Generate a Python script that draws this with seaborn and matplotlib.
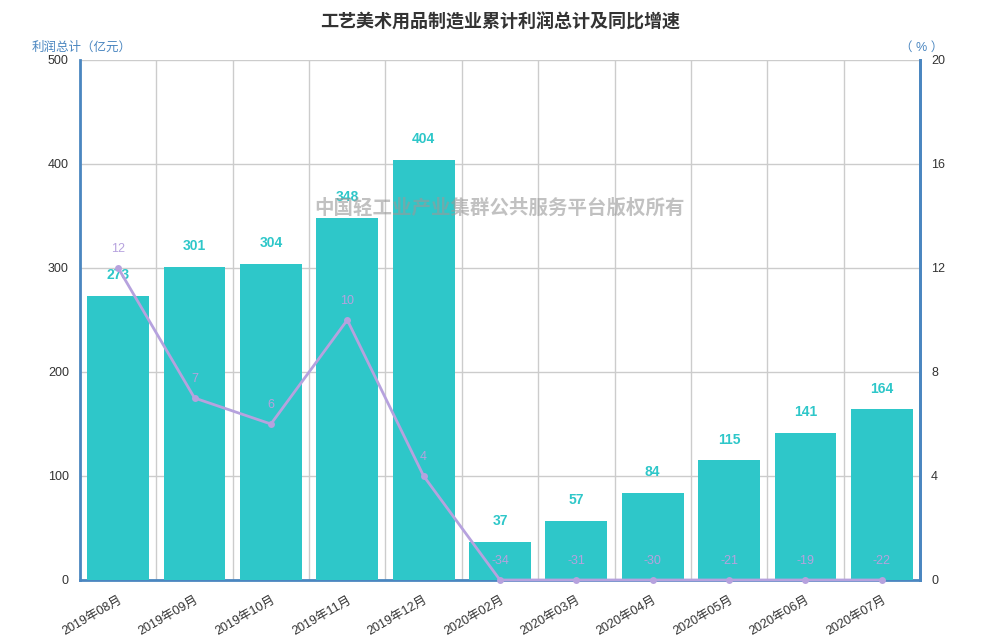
import numpy as np
import pandas as pd
import matplotlib
matplotlib.use("Agg")
import matplotlib.pyplot as plt
import seaborn as sns

months = ["2019年08月", "2019年09月", "2019年10月", "2019年11月", "2019年12月",
          "2020年02月", "2020年03月", "2020年04月", "2020年05月", "2020年06月", "2020年07月"]
profit = [273, 301, 304, 348, 404, 37, 57, 84, 115, 141, 164]
growth = [12, 7, 6, 10, 4, -34, -31, -30, -21, -19, -22]
left_ticks = [0, 100, 200, 300, 400, 500]
right_ticks = [0, 4, 8, 12, 16, 20]

title = "工艺美术用品制造业累计利润总计及同比增速"
left_label = "利润总计（亿元）"
right_label = "（ % ）"
watermark = "中国轻工业产业集群公共服务平台版权所有"

BAR = "#2ec7c9"
LINE = "#b6a2de"
AXIS = "#4a86c0"
GRID = "#cccccc"

sns.set_theme(style="white")
plt.rcParams["font.family"] = ["Liberation Sans", "Noto Sans CJK SC", "DejaVu Sans"]

df = pd.DataFrame({"month": months, "profit": profit, "growth": growth})
df["growth_plot"] = np.clip(df["growth"], right_ticks[0], right_ticks[-1])

fig = plt.figure(figsize=(10, 6.4), dpi=100)
ax = fig.add_axes([0.08, 0.09375, 0.84, 0.8125])

sns.barplot(data=df, x="month", y="profit", color=BAR, saturation=1, width=0.81,
            linewidth=0, ax=ax, zorder=3)
n = len(months)
ax.set_xlim(-0.5, n - 0.5)
ax.set_ylim(left_ticks[0], left_ticks[-1])
ax.set_yticks(left_ticks)
ax.set_xticks(np.arange(-0.5, n, 1.0))
ax.set_xticklabels([])
ax.set_xticks(np.arange(n), minor=True)
ax.set_xticklabels(months, minor=True, rotation=30, ha="right", va="top",
                   rotation_mode="anchor", fontsize=9, color="#333333")
ax.tick_params(axis="x", which="minor", length=0, pad=10)
ax.tick_params(axis="x", which="major", length=5, width=1, color="#333333", direction="out")
ax.tick_params(axis="y", length=0, labelsize=9, labelcolor="#333333", pad=8)
ax.grid(True, which="major", color=GRID, linewidth=1, zorder=0)
ax.set_axisbelow(True)
ax.set_xlabel("")
ax.set_ylabel("")
ax.spines["top"].set_visible(False)
for side in ["left", "bottom", "right"]:
    ax.spines[side].set_color(AXIS)
    ax.spines[side].set_linewidth(2)

for i, v in enumerate(profit):
    ax.annotate(str(v), (i, v), xytext=(0, 10), textcoords="offset points",
                ha="center", va="bottom", fontsize=10, fontweight="bold", color=BAR, zorder=5)

ax2 = ax.twinx()
sns.lineplot(data=df, x="month", y="growth_plot", ax=ax2, color=LINE, linewidth=2,
             marker="o", markersize=5, markeredgewidth=0, zorder=4, clip_on=False)
ax2.set_ylim(right_ticks[0], right_ticks[-1])
ax2.set_yticks(right_ticks)
ax2.tick_params(axis="y", length=0, labelsize=9, labelcolor="#333333", pad=8)
ax2.set_ylabel("")
ax2.set_xlabel("")
ax2.grid(False)
for side in ["top", "left", "bottom"]:
    ax2.spines[side].set_visible(False)
ax2.spines["right"].set_color(AXIS)
ax2.spines["right"].set_linewidth(2)

for i, (g, gp) in enumerate(zip(growth, df["growth_plot"])):
    ax2.annotate(str(g), (i, gp), xytext=(0, 9), textcoords="offset points",
                 ha="center", va="bottom", fontsize=9, color=LINE, zorder=6)

fig.text(0.5, 0.980, title, ha="center", va="top", fontsize=13, fontweight="bold", color="#333333")
fig.text(0.032, 0.925, left_label, ha="left", va="center", fontsize=9, color=AXIS)
fig.text(0.922, 0.925, right_label, ha="center", va="center", fontsize=9, color=AXIS)
fig.text(0.5, 0.675, watermark, ha="center", va="center", fontsize=14, fontweight="bold",
         color="#999999", alpha=0.6, zorder=10)

fig.savefig("out.png", dpi=100)
